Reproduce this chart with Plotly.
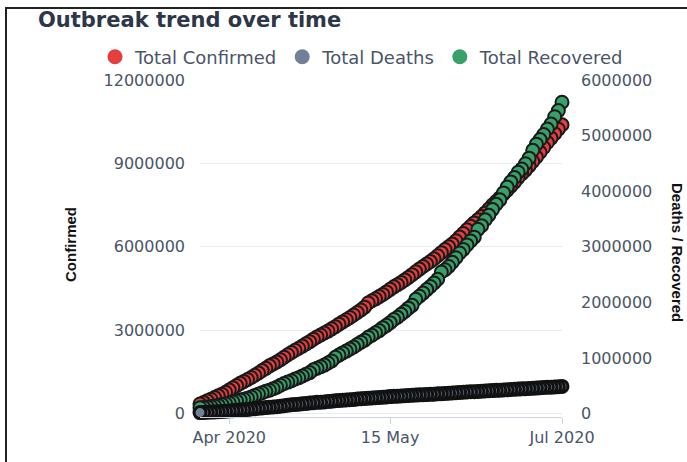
import pandas as pd
import plotly.graph_objects as go

# ---------------- data ----------------
dates = pd.date_range("2020-03-24", "2020-07-02", freq="D")

total_confirmed = [  # millions
    0.35, 0.40, 0.46, 0.52, 0.58, 0.64, 0.70, 0.77,
    0.85, 0.93, 1.01, 1.09, 1.16, 1.23, 1.30, 1.38, 1.46, 1.55, 1.63, 1.72, 1.79, 1.86, 1.94,
    2.03, 2.12, 2.20, 2.28, 2.35, 2.43, 2.51, 2.59, 2.68, 2.76, 2.83, 2.90, 2.97, 3.05, 3.13,
    3.22, 3.30, 3.38, 3.46, 3.55, 3.64, 3.73, 3.83, 3.98, 4.06, 4.13, 4.21, 4.29, 4.38, 4.47,
    4.56, 4.64, 4.72, 4.81, 4.90, 5.00, 5.10, 5.20, 5.29, 5.38, 5.47, 5.57, 5.68, 5.79, 5.90, 6.00,
    6.10, 6.22, 6.35, 6.48, 6.61, 6.74, 6.86, 6.97, 7.09, 7.22, 7.36, 7.50, 7.63, 7.76, 7.90,
    8.04, 8.18, 8.32, 8.49, 8.63, 8.76, 8.91, 9.07, 9.23, 9.40, 9.57, 9.75, 9.91, 10.07, 10.23,
    10.39, 10.54,
]

total_recovered = [  # millions
    0.107, 0.113, 0.122, 0.130, 0.139, 0.149, 0.164, 0.178,
    0.193, 0.210, 0.226, 0.246, 0.260, 0.276, 0.300, 0.328, 0.353, 0.376, 0.402, 0.421, 0.449,
    0.474, 0.511, 0.542, 0.568, 0.592, 0.624, 0.645, 0.679, 0.710, 0.738, 0.790, 0.816, 0.845,
    0.873, 0.911, 0.949, 1.015,
    1.053, 1.093, 1.125, 1.162, 1.198, 1.245, 1.284, 1.322, 1.375, 1.409, 1.456, 1.494, 1.547,
    1.588, 1.637, 1.693, 1.733, 1.787, 1.838, 1.897, 1.948, 2.057, 2.112, 2.168, 2.231, 2.287,
    2.350, 2.416, 2.547, 2.587, 2.647,
    2.722, 2.804, 2.890, 2.954, 3.035, 3.107, 3.174, 3.314, 3.381, 3.486, 3.567, 3.672, 3.765,
    3.845, 3.970, 4.075, 4.168, 4.246, 4.342, 4.398, 4.495, 4.595, 4.736, 4.846, 4.929, 5.018,
    5.118, 5.210, 5.340, 5.450,
    5.600, 5.760,
]

total_deaths = [  # thousands
    19, 22, 25, 28, 32, 35, 39, 44,
    49, 54, 60, 66, 71, 76, 82, 89, 96, 103, 109, 115, 120, 126, 134, 142, 153, 159, 165, 170,
    178, 184, 191, 197, 203, 206, 211, 218, 225, 231,
    237, 242, 246, 250, 256, 263, 269, 274, 278, 282, 285, 291, 296, 301, 307, 311, 315, 318,
    322, 326, 330, 334, 338, 341, 343, 347, 351, 356, 360, 364, 368,
    372, 376, 381, 385, 389, 393, 396, 399, 403, 407, 411, 415, 419, 422, 425, 430, 434, 438,
    442, 446, 449, 452, 456, 460, 465, 470, 474, 477, 481, 485,
    490, 495,
]

assert len(total_confirmed) == len(dates)
assert len(total_recovered) == len(dates)
assert len(total_deaths) == len(dates)

confirmed = [v * 1e6 for v in total_confirmed]
recovered = [v * 1e6 for v in total_recovered]
deaths = [v * 1e3 for v in total_deaths]

series_names = ["Total Confirmed", "Total Deaths", "Total Recovered"]
series_colors = ["#e53e3e", "#718096", "#38a169"]

x_tick_dates = ["2020-04-01", "2020-05-15", "2020-07-01"]
x_tick_labels = ["Apr 2020", "15 May", "Jul 2020"]
y_left_ticks = [0, 3000000, 6000000, 9000000, 12000000]
y_right_ticks = [0, 1000000, 2000000, 3000000, 4000000, 5000000, 6000000]

# ---------------- figure ----------------
W, H = 687, 462
ML, MR, MT, MB = 200, 125, 80, 45
PW, PH = W - ML - MR, H - MT - MB


def px_x(p):
    return (p - ML) / PW


def px_y(p):
    return (H - MB - p) / PH


TICK_FONT = dict(family="DejaVu Sans", size=16, color="#4a5568")

# newest first so that earlier points sit on top (as in the reference)
rd = list(dates)[::-1]

fig = go.Figure()
fig.add_trace(go.Scatter(
    x=rd, y=recovered[::-1], yaxis="y2", mode="markers", name=series_names[2],
    marker=dict(size=13, color=series_colors[2], line=dict(color="#1a1a1a", width=2)),
    showlegend=False, cliponaxis=False, hoverinfo="skip"))
fig.add_trace(go.Scatter(
    x=rd, y=deaths[::-1], yaxis="y2", mode="markers", name=series_names[1],
    marker=dict(size=12, color=series_colors[1], line=dict(color="#111111", width=3)),
    showlegend=False, cliponaxis=False, hoverinfo="skip"))
fig.add_trace(go.Scatter(
    x=rd, y=confirmed[::-1], yaxis="y", mode="markers", name=series_names[0],
    marker=dict(size=13, color=series_colors[0], line=dict(color="#1a1a1a", width=2)),
    showlegend=False, cliponaxis=False, hoverinfo="skip"))

# legend entries (plain filled circles)
for i, (nm, col) in enumerate(zip(series_names, series_colors)):
    fig.add_trace(go.Scatter(
        x=[None], y=[None], mode="markers", name=nm,
        marker=dict(size=15, color=col, line=dict(width=0)),
        legendrank=i + 1, showlegend=True))

fig.update_layout(
    width=W, height=H,
    margin=dict(l=ML, r=MR, t=MT, b=MB, pad=0),
    paper_bgcolor="white", plot_bgcolor="white",
    title=dict(text="<b>Outbreak trend over time</b>", x=38 / W, xanchor="left",
               xref="container", y=1 - 20 / H, yanchor="middle", yref="container",
               font=dict(family="DejaVu Sans", size=21, color="#2d3748")),
    legend=dict(orientation="h", x=px_x(95), xanchor="left", y=px_y(57), yanchor="middle",
                font=dict(family="DejaVu Sans", size=18, color="#4a5568"),
                bgcolor="rgba(0,0,0,0)", itemclick=False, traceorder="normal"),
    xaxis=dict(type="date", range=["2020-03-24", "2020-07-01"],
               tickvals=x_tick_dates, ticktext=x_tick_labels,
               ticks="outside", ticklen=6, tickcolor="#cbd5e0",
               showline=True, linecolor="#cbd5e0", linewidth=1,
               showgrid=False, zeroline=False, tickfont=TICK_FONT),
    yaxis=dict(range=[-120000, 12000000], tickvals=y_left_ticks,
               ticktext=[str(v) for v in y_left_ticks],
               showgrid=True, gridcolor="#e8ecf1", gridwidth=1, zeroline=False,
               showline=False, ticks="", ticklabelstandoff=14, tickfont=TICK_FONT),
    yaxis2=dict(range=[-60000, 6000000], tickvals=y_right_ticks,
                ticktext=[str(v) for v in y_right_ticks],
                overlaying="y", side="right", showgrid=False, zeroline=False,
                showline=False, ticks="", ticklabelstandoff=18, tickfont=TICK_FONT),
    showlegend=True,
    hovermode=False,
)

fig.add_annotation(text="Confirmed", xref="paper", yref="paper",
                   x=px_x(70), y=px_y(245), textangle=-90, showarrow=False,
                   xanchor="center", yanchor="middle",
                   font=dict(family="Liberation Sans Narrow, Arial Narrow, Liberation Sans",
                             size=15, color="#111111", weight="bold"))
fig.add_annotation(text="Deaths / Recovered", xref="paper", yref="paper",
                   x=px_x(678), y=px_y(252), textangle=90, showarrow=False,
                   xanchor="center", yanchor="middle",
                   font=dict(family="Liberation Sans Narrow, Arial Narrow, Liberation Sans",
                             size=15, color="#111111", weight="bold"))

# card frame
fig.add_shape(type="rect", xref="paper", yref="paper",
              x0=px_x(6), x1=px_x(720), y0=px_y(500), y1=px_y(8),
              line=dict(color="#222222", width=2), fillcolor="rgba(0,0,0,0)",
              layer="above")

fig.write_html("out.html", config={"displayModeBar": False},
               post_script="document.body.style.margin='0';document.body.style.padding='0';")
